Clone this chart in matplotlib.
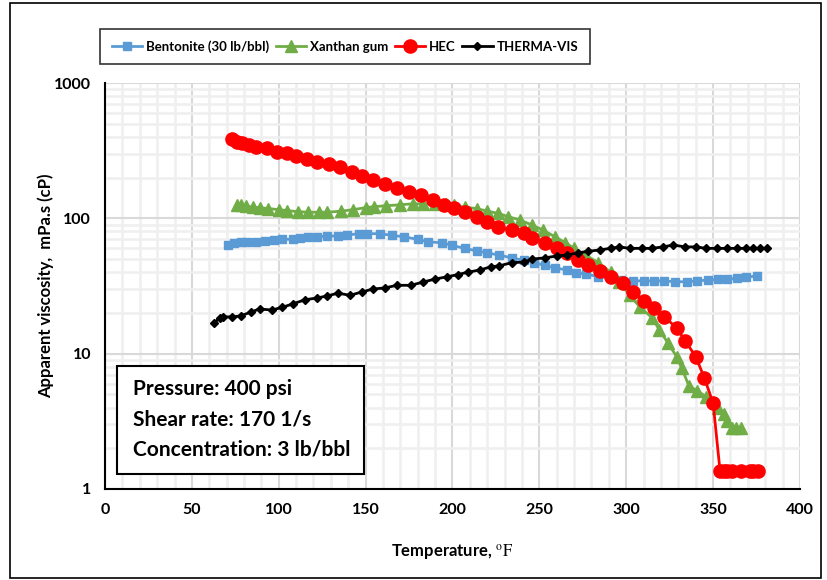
import matplotlib
matplotlib.use('Agg')
import matplotlib.pyplot as plt
from matplotlib.patches import Rectangle
from matplotlib.ticker import FixedLocator, NullFormatter, FuncFormatter

plt.rcParams['font.family'] = ['Lato', 'DejaVu Sans']
plt.rcParams['mathtext.fontset'] = 'stix'

# ----------------- Data -----------------
bent_t = [71, 74, 78, 82, 87, 92, 97, 102, 108, 112, 117, 122, 128, 134, 139, 146, 151, 158,
          165, 172, 180, 186, 194, 200, 207, 214, 220, 227, 234, 241, 247, 253, 259, 266,
          271, 277, 284, 291, 297, 304, 310, 316, 322, 328, 335, 341, 347, 353, 358, 364,
          369, 375]
bent_v = [63, 66, 67, 67, 67, 68, 69, 70, 70, 71, 73, 73, 74, 74, 75, 77, 77, 77,
          75, 73, 70, 67, 66, 63, 60, 57.5, 55.5, 53.5, 51, 49, 47, 45, 43, 41.5,
          39.5, 38.8, 37, 36.3, 35, 34.5, 34.5, 34.5, 34.5, 34, 34, 34.5, 35, 35.5, 35.5, 36,
          36.8, 37.5]

xan_t = [76, 78, 81, 85, 89, 94, 100, 105, 111, 117, 123, 128, 136, 143, 150, 155, 162, 170,
         177, 183, 190, 196, 201, 207, 214, 220, 226, 232, 239, 246, 252, 259, 265, 270,
         277, 284, 291, 296, 302, 308, 315, 319, 324, 329, 332, 336, 341, 346, 353, 356,
         358, 361, 363, 366]
xan_v = [125, 126, 123, 121, 120, 118, 116, 114, 112, 111, 111, 111, 113, 116, 120, 122, 124, 126,
         128, 128, 128, 127, 125, 121, 118, 113, 109, 103, 97, 89, 82, 73, 66, 60,
         53, 47, 40, 34, 27, 22, 18.4, 15, 12, 9.5, 7.8, 5.8, 5.3, 4.8, 4.0, 3.6,
         3.2, 2.8, 2.8, 2.8]

hec_t = [73, 76, 79, 83, 87, 93, 99, 105, 110, 116, 122, 129, 135, 142, 148, 154, 161, 168,
         175, 182, 189, 195, 201, 207, 214, 220, 226, 234, 241, 246, 253, 260, 266, 272,
         278, 285, 291, 298, 304, 310, 316, 322, 329, 334, 340, 345, 350, 354, 356, 358,
         361, 366, 371, 373, 376]
hec_v = [386, 367, 360, 348, 336, 330, 310, 302, 290, 275, 262, 250, 240, 220, 206, 192, 180, 168,
         157, 149, 137, 126, 119, 111, 102, 94, 86, 82, 78, 72, 66, 60, 55, 49,
         45, 41, 37, 33, 28.6, 24.6, 21.8, 18.7, 15.5, 12.4, 9.5, 6.6, 4.3, 1.35, 1.35, 1.35,
         1.35, 1.35, 1.35, 1.35, 1.35]

tv_t = [63, 66, 68, 73, 78, 84, 89, 96, 102, 108, 115, 122, 128, 134, 141, 148, 154, 161,
        168, 176, 183, 190, 197, 203, 209, 216, 222, 227, 234, 241, 246, 253, 260, 266,
        272, 278, 285, 291, 296, 302, 309, 315, 321, 327, 334, 340, 346, 352, 358, 364,
        369, 373, 377, 381]
tv_v = [16.9, 18.4, 18.7, 18.7, 19, 20.3, 21.4, 21, 22, 23.3, 25, 25.8, 26.7, 28, 27, 28.6, 30, 30.6,
        32, 32, 33.8, 35.6, 37, 38.4, 40, 41.6, 43.8, 44.6, 47, 47.5, 50, 51, 52.7, 53.5,
        55.6, 57, 58.5, 60, 61.5, 60, 60, 60, 61.5, 63.5, 61.5, 61.5, 60, 60, 60, 60,
        60, 60, 60, 60]

box_lines = ["Pressure: 400 psi", "Shear rate: 170 1/s", "Concentration: 3 lb/bbl"]

# ----------------- Figure -----------------
W, H = 828, 580
fig = plt.figure(figsize=(W / 100, H / 100), dpi=100)
ax = fig.add_axes([105 / W, 1 - 489 / H, 695 / W, 406 / H])

ax.plot(bent_t, bent_v, color='#5b9bd5', marker='s', markersize=6, lw=2, label='Bentonite (30 lb/bbl)', zorder=3)
ax.plot(xan_t, xan_v, color='#70ad47', marker='^', markersize=8.5, lw=2, label='Xanthan gum', zorder=3)
ax.plot(hec_t, hec_v, color='#ff0000', marker='o', markersize=9.5, lw=2, label='HEC', zorder=4)
ax.plot(tv_t, tv_v, color='black', marker='D', markersize=4.5, lw=2, label='THERMA-VIS', zorder=5)

ax.set_yscale('log')
ax.set_xlim(0, 400)
ax.set_ylim(1, 1000)
ax.set_xticks(range(0, 401, 50))
ax.xaxis.set_minor_locator(FixedLocator(range(0, 401, 10)))
ax.yaxis.set_major_formatter(FuncFormatter(lambda v, p: f"{v:g}"))
ax.yaxis.set_minor_formatter(NullFormatter())
ax.grid(True, which='minor', color='#efefef', lw=1.8, zorder=0)
ax.grid(True, which='major', color='#d9d9d9', lw=1.5, zorder=1)
ax.set_axisbelow(True)
ax.tick_params(which='both', length=0, labelsize=11.5, pad=10)
for lab in ax.get_xticklabels() + ax.get_yticklabels():
    lab.set_fontweight('bold')
for s in ['top', 'right']:
    ax.spines[s].set_visible(False)
for s in ['left', 'bottom']:
    ax.spines[s].set_linewidth(1.5)
    ax.spines[s].set_color('black')
    ax.spines[s].set_zorder(6)

ax.set_xlabel(r'Temperature, $^{\mathrm{o}}\mathrm{F}$', fontsize=12, fontweight='bold', labelpad=18)
ax.set_ylabel('Apparent viscosity,  mPa.s (cP)', fontsize=12, fontweight='bold', labelpad=0)

leg = ax.legend(loc='center', bbox_to_anchor=((345 - 105) / 695, 1.09), ncol=4,
                frameon=True, fancybox=False, edgecolor='black', fontsize=9.5,
                handlelength=2.3, columnspacing=0.5, handletextpad=0.3, borderpad=0.85,
                borderaxespad=0)
leg.get_frame().set_linewidth(1.2)
for t in leg.get_texts():
    t.set_fontweight('bold')

# conditions box
ax.add_patch(Rectangle((12 / 695, 15 / 406), 247 / 695, 108 / 406, transform=ax.transAxes,
                       facecolor='white', edgecolor='black', lw=1.5, zorder=7))
for i, line in enumerate(box_lines):
    ax.text(28 / 695, (100 - i * 30) / 406, line, transform=ax.transAxes, fontsize=15,
            fontweight='bold', va='center', ha='left', zorder=8)

# outer frame
fig.patches.append(Rectangle((10 / W, 2 / H), 811 / W, 575 / H, transform=fig.transFigure,
                             fill=False, edgecolor='black', lw=1.2))

fig.savefig('out.png', dpi=100)
